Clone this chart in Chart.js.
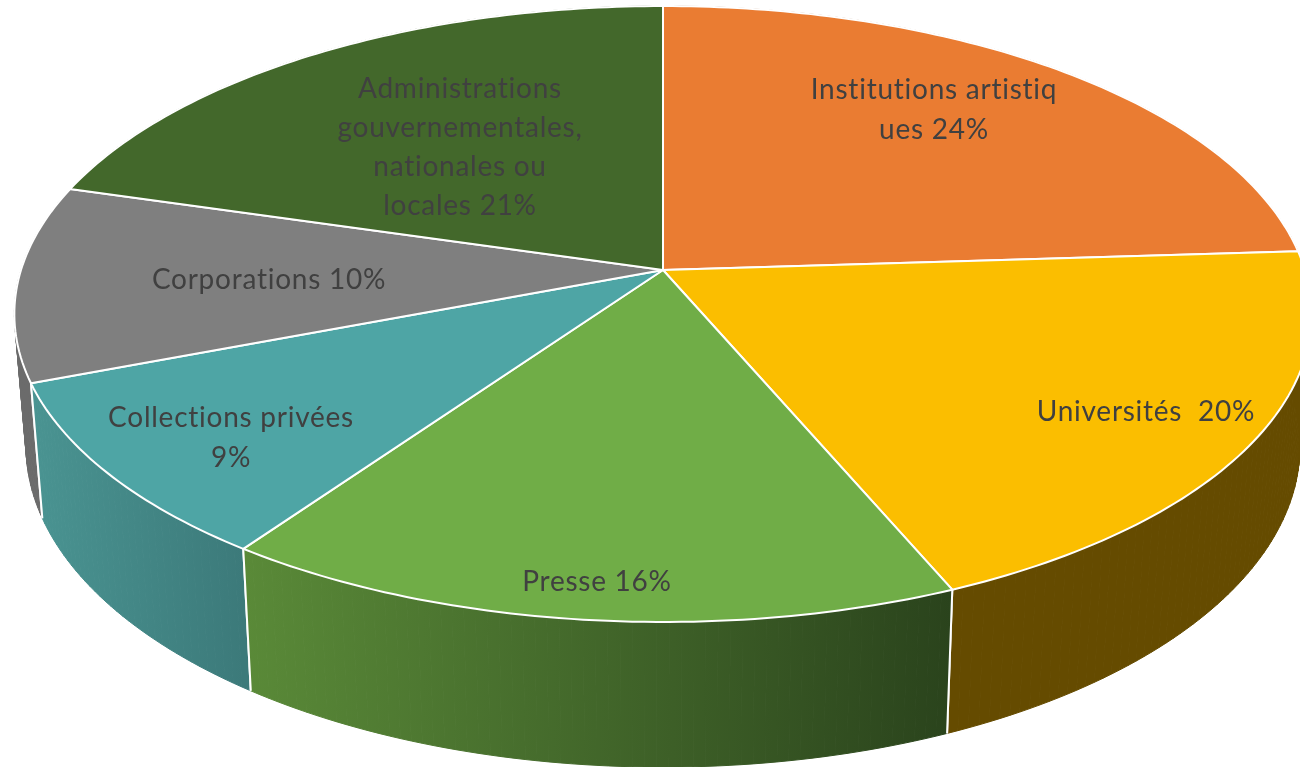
<!DOCTYPE html>
<html lang="fr">
<head>
<meta charset="utf-8">
<title>Répartition</title>
<script src="https://cdn.jsdelivr.net/npm/chart.js@4"></script>
<style>
    html, body { margin: 0; padding: 0; background: #ffffff; overflow: hidden; }
    canvas { display: block; }
</style>
</head>
<body>
<canvas id="pieChart" width="1300" height="767"></canvas>
<script>
const categories = [
    'Institutions artistiques',
    'Universités',
    'Presse',
    'Collections privées',
    'Corporations',
    'Administrations gouvernementales, nationales ou locales'
];
// read off the slice edges, so not always the rounded label value
const shares = [24, 19.6, 16.2, 9.4, 10.3, 20.5];
const labelLines = [
    ['Institutions artistiq', 'ues 24%'],
    ['Universités  20%'],
    ['Presse 16%'],
    ['Collections privées', '9%'],
    ['Corporations 10%'],
    ['Administrations', 'gouvernementales,', 'nationales ou', 'locales 21%']
];

const topColors = ['#EA7C32', '#FBBE00', '#70AD47', '#4EA5A5', '#7F7F7F', '#43682B'];
const wallFrom = ['#8E4B1D', '#654B00', '#5A8A38', '#4A9492', '#6B6B6B', '#283E1A'];
const wallTo = ['#8E4B1D', '#654B00', '#2A431C', '#3C7A7A', '#6B6B6B', '#283E1A'];

// label centres in page pixels, first line baseline is worked out from these
const labelSpots = [[934, 110], [1146, 412], [597, 582], [231, 438], [269, 280], [460, 147]];

// tilted disc: the apex sits above the middle of the ellipse because of the perspective
const apexX = 663, apexY = 270, spreadX = 642, spreadY = 301.7, tilt = -1 / 7;

function projectTop(u, v) {
    const d = 1 + tilt * v;
    return { x: apexX + spreadX * u / d, y: apexY + spreadY * v / d };
}

function projectBottom(p) {
    return { x: apexX + (p.x - apexX) * 0.982, y: p.y * 1.042 + 119 };
}

function rimPoints(arc) {
    const pts = [];
    const steps = Math.max(8, Math.ceil((arc.endAngle - arc.startAngle) * 60));
    for (let i = 0; i <= steps; i++) {
        const a = arc.startAngle + (arc.endAngle - arc.startAngle) * i / steps;
        const px = arc.x + arc.outerRadius * Math.cos(a);
        const py = arc.y + arc.outerRadius * Math.sin(a);
        pts.push(projectTop((px - arc.x) / arc.outerRadius, (py - arc.y) / arc.outerRadius));
    }
    return pts;
}

const tiltedPie = {
    id: 'tiltedPie',
    beforeDatasetsDraw(chart) {
        const ctx = chart.ctx;
        const slices = chart.getDatasetMeta(0).data.map((el, i) => {
            const arc = el.getProps(['x', 'y', 'startAngle', 'endAngle', 'outerRadius'], true);
            const rim = rimPoints(arc);
            return { i, rim, low: Math.max(...rim.map(p => p.y)) };
        });

        // walls, back to front. drawn as small quads so the side silhouette gets filled too
        slices.slice().sort((a, b) => a.low - b.low).forEach(s => {
            const floor = s.rim.map(projectBottom);
            const xs = s.rim.map(p => p.x);
            const grad = ctx.createLinearGradient(Math.min(...xs), 0, Math.max(...xs), 0);
            grad.addColorStop(0, wallFrom[s.i]);
            grad.addColorStop(1, wallTo[s.i]);
            ctx.fillStyle = grad;
            ctx.strokeStyle = grad;
            ctx.lineWidth = 1;
            for (let k = 0; k < s.rim.length - 1; k++) {
                ctx.beginPath();
                ctx.moveTo(s.rim[k].x, s.rim[k].y);
                ctx.lineTo(s.rim[k + 1].x, s.rim[k + 1].y);
                ctx.lineTo(floor[k + 1].x, floor[k + 1].y);
                ctx.lineTo(floor[k].x, floor[k].y);
                ctx.closePath();
                ctx.fill();
                ctx.stroke();
            }
            // white vertical edges only, the lower rim sits on the white page anyway
            const last = s.rim.length - 1;
            ctx.beginPath();
            ctx.moveTo(s.rim[0].x, s.rim[0].y);
            ctx.lineTo(floor[0].x, floor[0].y);
            ctx.moveTo(s.rim[last].x, s.rim[last].y);
            ctx.lineTo(floor[last].x, floor[last].y);
            ctx.strokeStyle = '#ffffff';
            ctx.lineWidth = 2;
            ctx.stroke();
        });

        // top faces
        slices.forEach(s => {
            ctx.beginPath();
            ctx.moveTo(apexX, apexY);
            s.rim.forEach(p => ctx.lineTo(p.x, p.y));
            ctx.closePath();
            ctx.fillStyle = topColors[s.i];
            ctx.fill();
            ctx.strokeStyle = '#ffffff';
            ctx.lineWidth = 2;
            ctx.lineJoin = 'round';
            ctx.stroke();
        });

        // labels
        ctx.font = '28px Lato';
        ctx.letterSpacing = '0.75px';
        ctx.fillStyle = '#404040';
        ctx.textAlign = 'center';
        ctx.textBaseline = 'middle';
        labelLines.forEach((lines, i) => {
            const lineH = lines.length > 2 ? 39 : 40;
            const top = labelSpots[i][1] - lineH * (lines.length - 1) / 2;
            lines.forEach((line, k) => ctx.fillText(line, labelSpots[i][0], top + k * lineH));
        });
        return false;
    }
};

new Chart(document.getElementById('pieChart'), {
    type: 'pie',
    data: {
        labels: categories,
        datasets: [{
            data: shares,
            backgroundColor: topColors,
            borderColor: '#ffffff',
            borderWidth: 2
        }]
    },
    options: {
        responsive: false,
        animation: false,
        plugins: {
            legend: { display: false },
            tooltip: { enabled: false }
        }
    },
    plugins: [tiltedPie]
});
</script>
</body>
</html>
